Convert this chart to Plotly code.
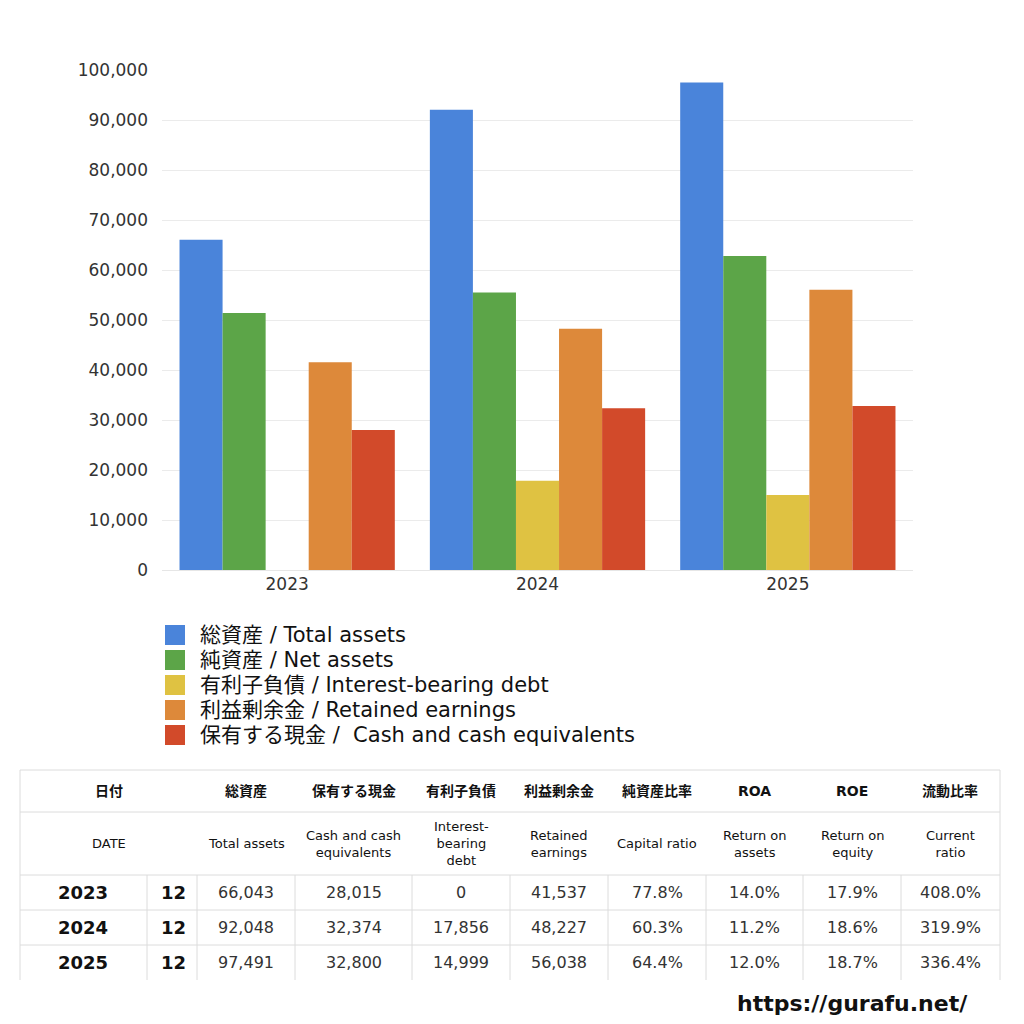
import plotly.graph_objects as go

# ---------------- data ----------------
years = ["2023", "2024", "2025"]
months = ["12", "12", "12"]
total_assets = [66043, 92048, 97491]
net_assets = [51381, 55505, 62784]
interest_debt = [0, 17856, 14999]
retained = [41537, 48227, 56038]
cash = [28015, 32374, 32800]
capital_ratio = ["77.8%", "60.3%", "64.4%"]
roa = ["14.0%", "11.2%", "12.0%"]
roe = ["17.9%", "18.6%", "18.7%"]
current_ratio = ["408.0%", "319.9%", "336.4%"]

series_names = [
    "総資産 / Total assets",
    "純資産 / Net assets",
    "有利子負債 / Interest-bearing debt",
    "利益剰余金 / Retained earnings",
    "保有する現金 /  Cash and cash equivalents",
]
series_values = [total_assets, net_assets, interest_debt, retained, cash]
series_colors = ["#4a84da", "#5ca548", "#dfc242", "#dd893a", "#d24a2a"]

y_ticks = [0, 10000, 20000, 30000, 40000, 50000, 60000, 70000, 80000, 90000, 100000]

hdr_jp = ["日付", "総資産", "保有する現金", "有利子負債", "利益剰余金", "純資産比率", "ROA", "ROE", "流動比率"]
hdr_en = ["DATE", "Total assets", "Cash and cash<br>equivalents", "Interest-<br>bearing<br>debt",
          "Retained<br>earnings", "Capital ratio", "Return on<br>assets", "Return on<br>equity", "Current<br>ratio"]

FONT = "DejaVu Sans, Noto Sans CJK JP"

fig = go.Figure()
for name, vals, col in zip(series_names, series_values, series_colors):
    fig.add_trace(go.Bar(x=years, y=vals, name=name, showlegend=False,
                         marker=dict(color=col, line=dict(width=0))))

# plot area pixel geometry
L, R, T, B = 162, 913, 70, 570
W, H = R - L, B - T


def px(x):
    return (x - L) / W


def py(y):
    return (B - y) / H


fig.update_layout(
    width=1024, height=1024,
    margin=dict(l=L, r=1024 - R, t=T, b=1024 - B),
    paper_bgcolor="white", plot_bgcolor="white",
    barmode="group", bargap=0.14, bargroupgap=0,
    font=dict(family=FONT, color="#222"),
    showlegend=False,
    xaxis=dict(showgrid=False, showline=False, ticks="",
               tickfont=dict(size=17, color="#333"), ticklabelstandoff=2),
    yaxis=dict(range=[0, 100000], tickvals=y_ticks,
               ticktext=[f"{v:,}" for v in y_ticks],
               showgrid=True, gridcolor="#ebebeb", gridwidth=1,
               zeroline=True, zerolinecolor="#e6e6e6", zerolinewidth=1,
               showline=False, ticks="", tickfont=dict(size=17, color="#333"),
               ticklabelstandoff=13),
)

shapes = []
annos = []

# ---------------- legend (drawn manually) ----------------
for k, (name, col) in enumerate(zip(series_names, series_colors)):
    yc = 635 + 25 * k
    shapes.append(dict(type="rect", xref="paper", yref="paper",
                       x0=px(165), x1=px(185), y0=py(yc - 10), y1=py(yc + 10),
                       fillcolor=col, line=dict(width=0)))
    annos.append(dict(xref="paper", yref="paper", x=px(199), y=py(yc), xanchor="left", yanchor="middle",
                      text=name, showarrow=False, borderpad=0,
                      font=dict(size=21, color="#111", family=FONT)))

# ---------------- table ----------------
col_edges = [20, 147, 197, 295, 412, 510, 608, 706, 803, 901, 1000]
row_edges = [770, 812, 875, 910, 945, 980]
line_col = "#dcdcdc"


def hline(y, x0, x1):
    shapes.append(dict(type="line", xref="paper", yref="paper", x0=px(x0), x1=px(x1),
                       y0=py(y), y1=py(y), line=dict(color=line_col, width=1)))


def vline(x, y0, y1):
    shapes.append(dict(type="line", xref="paper", yref="paper", x0=px(x), x1=px(x),
                       y0=py(y0), y1=py(y1), line=dict(color=line_col, width=1)))


for y in row_edges[:-1]:
    hline(y, col_edges[0], col_edges[-1])
vline(col_edges[0], row_edges[0], row_edges[-1])
vline(col_edges[-1], row_edges[0], row_edges[-1])
for x in col_edges[1:-1]:
    vline(x, row_edges[2], row_edges[-1])


def text(x, y, s, size, bold=False, color="#222"):
    annos.append(dict(xref="paper", yref="paper", x=px(x), y=py(y), text=(f"<b>{s}</b>" if bold else s),
                      showarrow=False, xanchor="center", yanchor="middle",
                      font=dict(size=size, color=color, family=FONT)))


centers = [(col_edges[i] + col_edges[i + 1]) / 2 for i in range(len(col_edges) - 1)]
hdr_x = [(col_edges[0] + col_edges[2]) / 2] + centers[2:]
hy1 = (row_edges[0] + row_edges[1]) / 2
hy2 = (row_edges[1] + row_edges[2]) / 2
for x, jp, en in zip(hdr_x, hdr_jp, hdr_en):
    text(x, hy1, jp, 14, bold=True, color="#111")
    text(x, hy2, en, 13, bold=False, color="#111")

for i in range(len(years)):
    ry = (row_edges[2 + i] + row_edges[3 + i]) / 2
    text(83, ry, years[i], 18, bold=True, color="#111")
    text(173, ry, months[i], 18, bold=True, color="#111")
    row_vals = [f"{total_assets[i]:,}", f"{cash[i]:,}", f"{interest_debt[i]:,}", f"{retained[i]:,}",
                capital_ratio[i], roa[i], roe[i], current_ratio[i]]
    for x, v in zip(centers[2:], row_vals):
        text(x, ry, v, 16, color="#333")

annos.append(dict(xref="paper", yref="paper", x=px(970), y=py(1003), xanchor="right", yanchor="middle",
                  text="<b>https://gurafu.net/</b>", showarrow=False,
                  font=dict(size=22, color="#111", family=FONT)))

fig.update_layout(shapes=shapes, annotations=annos)
fig.write_html("out.html")
